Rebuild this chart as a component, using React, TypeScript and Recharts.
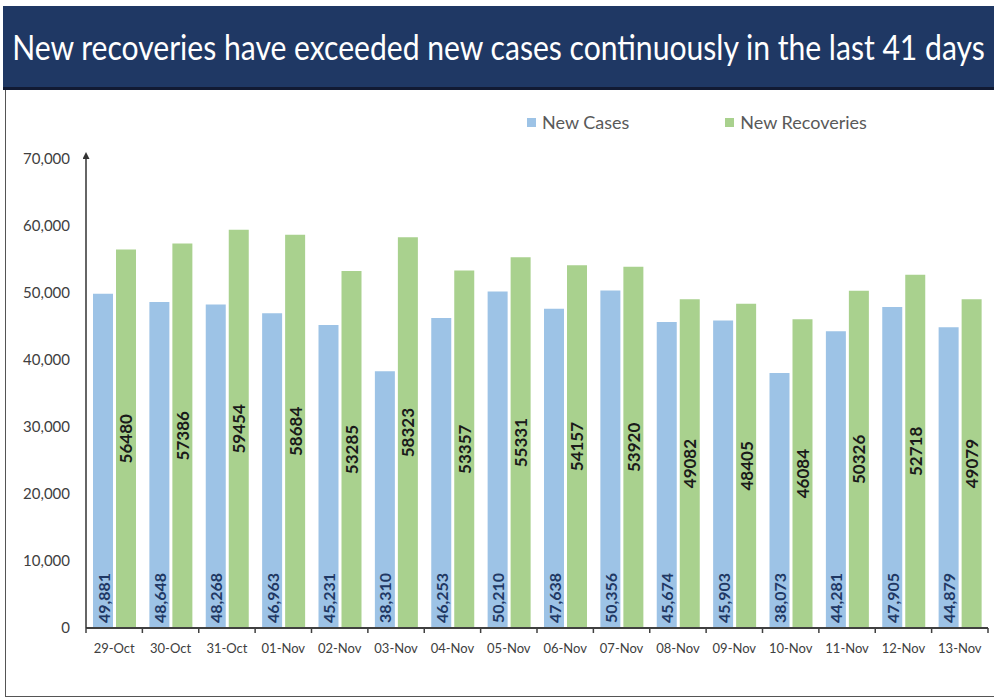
import { BarChart, Bar, XAxis, YAxis, LabelList } from "recharts";

const dates = [
  "29-Oct", "30-Oct", "31-Oct", "01-Nov", "02-Nov", "03-Nov", "04-Nov", "05-Nov",
  "06-Nov", "07-Nov", "08-Nov", "09-Nov", "10-Nov", "11-Nov", "12-Nov", "13-Nov",
];
const newCases = [
  49881, 48648, 48268, 46963, 45231, 38310, 46253, 50210,
  47638, 50356, 45674, 45903, 38073, 44281, 47905, 44879,
];
const newRecoveries = [
  56480, 57386, 59454, 58684, 53285, 58323, 53357, 55331,
  54157, 53920, 49082, 48405, 46084, 50326, 52718, 49079,
];
const yTicks = [0, 10000, 20000, 30000, 40000, 50000, 60000, 70000];
const title = "New recoveries have exceeded new cases continuously in the last 41 days";

const BLUE = "#9dc3e6";
const GREEN = "#a9d18e";
const FONT = "Lato, 'Open Sans', sans-serif";

const data = dates.map((d, i) => ({
  date: d,
  cases: newCases[i],
  recoveries: newRecoveries[i],
}));

const CHART_W = 994;
const CHART_H = 608;
const margin = { top: 69, right: 6, left: 6, bottom: 30 };
const Y_W = 80;
const band = (CHART_W - margin.left - margin.right - Y_W) / dates.length;

const fmt = (v: number) => v.toLocaleString("en-US");

function XTick(props: any) {
  const { x, y, payload, index } = props;
  const last = index === dates.length - 1;
  return (
    <g>
      <line x1={x - band / 2} x2={x - band / 2} y1={y - 8} y2={y - 3} stroke="#404040" strokeWidth={1.5} />
      {last && (
        <line x1={x + band / 2} x2={x + band / 2} y1={y - 8} y2={y - 3} stroke="#404040" strokeWidth={1.5} />
      )}
      <text x={x} y={y + 17} textAnchor="middle" fontSize={13} fill="#404040" fontFamily={FONT}>
        {payload.value}
      </text>
    </g>
  );
}

function CasesLabel(props: any) {
  const { x, y, width, height, value } = props;
  const cx = x + width / 2;
  const by = y + height - 5;
  return (
    <text
      x={cx}
      y={by}
      transform={`rotate(-90 ${cx} ${by})`}
      textAnchor="start"
      dominantBaseline="central"
      fontSize={16}
      fontWeight={700}
      fill="#1f3864"
      fontFamily={FONT}
    >
      {fmt(value)}
    </text>
  );
}

function RecoveriesLabel(props: any) {
  const { x, y, width, height, value } = props;
  const cx = x + width / 2;
  const cy = y + height / 2;
  return (
    <text
      x={cx}
      y={cy}
      transform={`rotate(-90 ${cx} ${cy})`}
      textAnchor="middle"
      dominantBaseline="central"
      fontSize={17}
      fontWeight={700}
      fill="#1a1a1a"
      fontFamily={FONT}
    >
      {value}
    </text>
  );
}

export default function App() {
  return (
    <div
      style={{
        position: "absolute",
        left: 0,
        top: 0,
        width: 994,
        height: 698,
        background: "#fff",
        fontFamily: FONT,
        overflow: "hidden",
      }}
    >
      <svg width={0} height={0} style={{ position: "absolute" }}>
        <defs>
          <marker
            id="yArrow"
            markerUnits="userSpaceOnUse"
            markerWidth={8}
            markerHeight={8}
            refX={0}
            refY={3.5}
            orient="auto-start-reverse"
          >
            <path d="M0,0 L7,3.5 L0,7 z" fill="#333" />
          </marker>
        </defs>
      </svg>

      <div
        style={{
          position: "absolute",
          left: 3,
          top: 6,
          width: 991,
          height: 81,
          background: "#1f3864",
          borderBottom: "3px solid #111a33",
          color: "#fff",
          fontSize: 35,
          lineHeight: "81px",
          textAlign: "center",
          whiteSpace: "nowrap",
        }}
      >
        <span
          style={{
            display: "inline-block",
            transform: "scaleX(0.86)",
            transformOrigin: "center",
            marginLeft: -200,
            marginRight: -200,
          }}
        >
          {title}
        </span>
      </div>

      <div
        style={{
          position: "absolute",
          left: 5,
          top: 90,
          width: 989,
          height: 606,
          borderLeft: "1px solid #555",
          borderBottom: "1px solid #555",
        }}
      />

      <div
        style={{
          position: "absolute",
          top: 111,
          left: 527,
          display: "flex",
          alignItems: "center",
          fontSize: 18,
          color: "#595959",
        }}
      >
        <span style={{ width: 9, height: 9, background: BLUE, marginRight: 6 }} />
        <span>New Cases</span>
        <span style={{ width: 9, height: 9, background: GREEN, marginLeft: 96, marginRight: 6 }} />
        <span>New Recoveries</span>
      </div>

      <div style={{ position: "absolute", left: 0, top: 90 }}>
        <BarChart width={CHART_W} height={CHART_H} data={data} margin={margin} barSize={20} barGap={3}>
          <XAxis
            dataKey="date"
            height={40}
            axisLine={{ stroke: "#404040", strokeWidth: 2 }}
            tickLine={false}
            tick={<XTick />}
            interval={0}
          />
          <YAxis
            width={Y_W}
            domain={[0, 70000]}
            ticks={yTicks}
            tickFormatter={fmt}
            axisLine={{ stroke: "#333", strokeWidth: 1.5, markerStart: "url(#yArrow)" } as any}
            tickLine={false}
            tickMargin={10}
            tick={{ fontSize: 15, fill: "#404040", fontFamily: FONT }}
          />
          <Bar dataKey="cases" name="New Cases" fill={BLUE} isAnimationActive={false}>
            <LabelList dataKey="cases" content={<CasesLabel />} />
          </Bar>
          <Bar dataKey="recoveries" name="New Recoveries" fill={GREEN} isAnimationActive={false}>
            <LabelList dataKey="recoveries" content={<RecoveriesLabel />} />
          </Bar>
        </BarChart>
      </div>
    </div>
  );
}
